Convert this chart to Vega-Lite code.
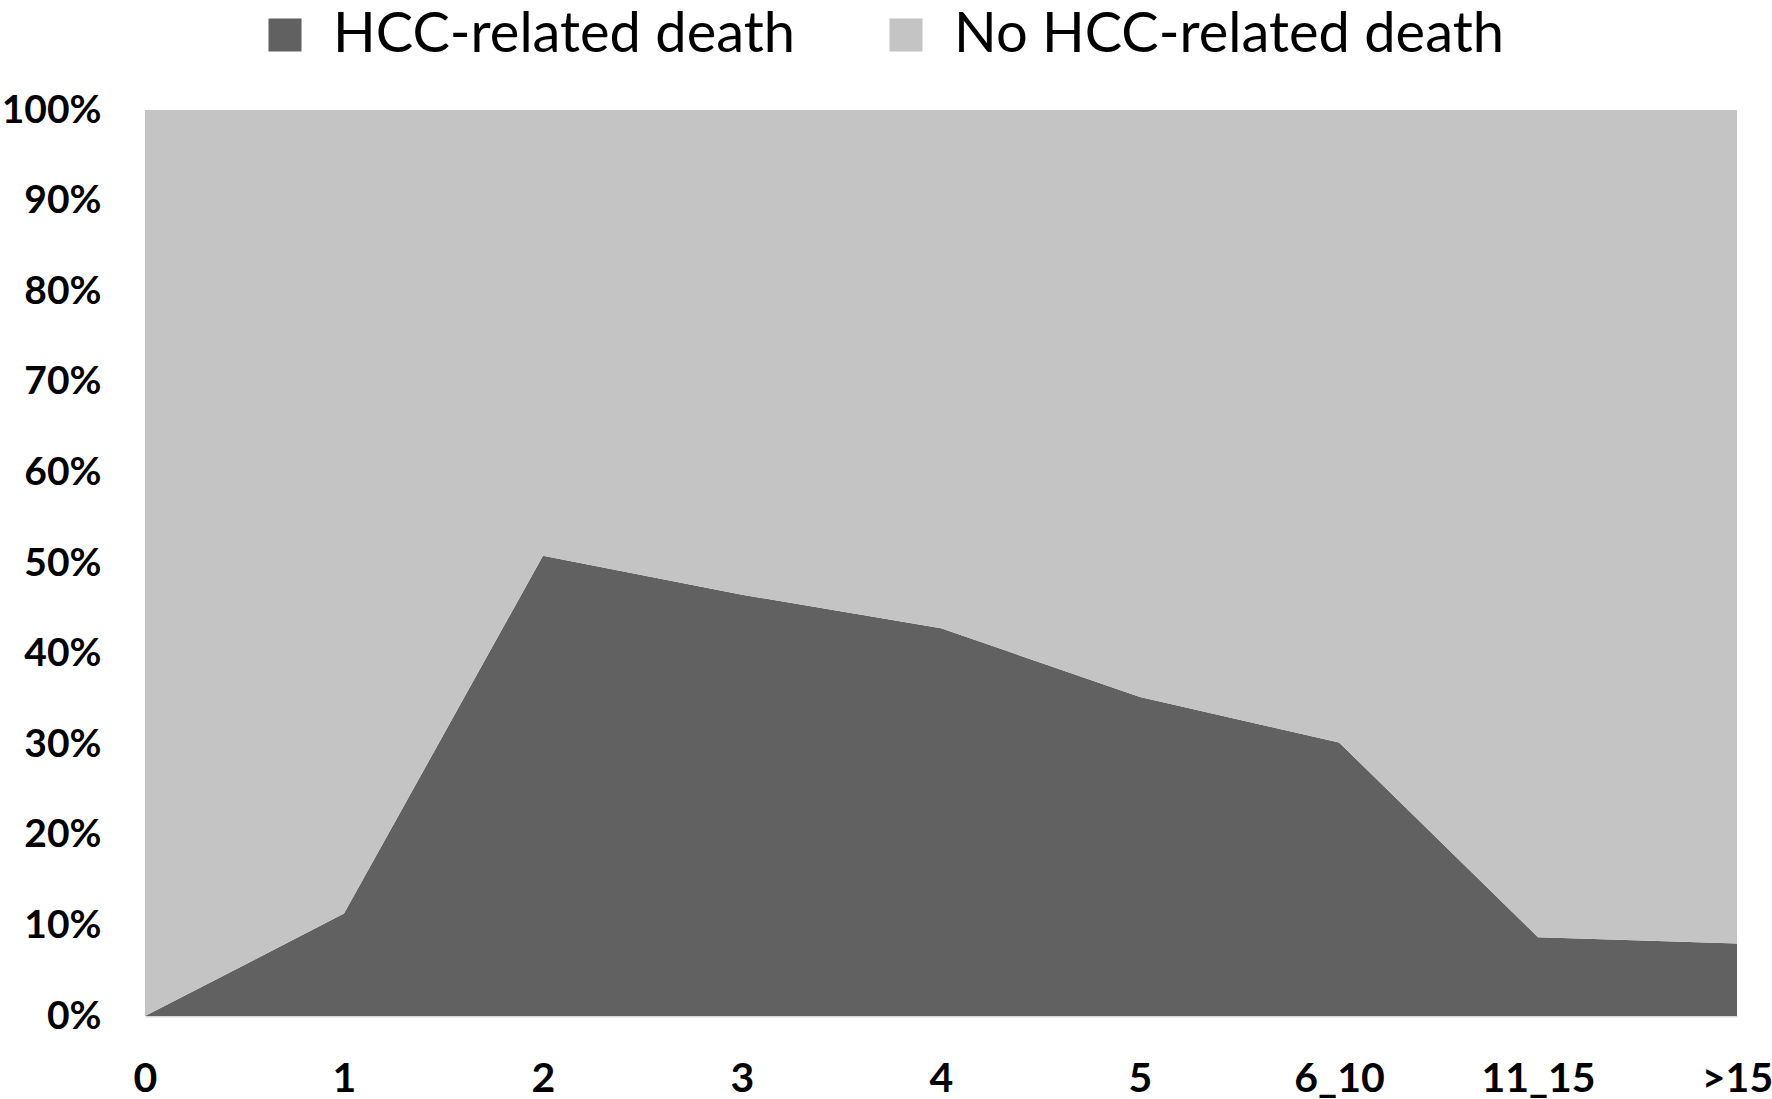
{
  "$schema": "https://vega.github.io/schema/vega-lite/v6.json",
  "width": 1592,
  "height": 906,
  "autosize": "none",
  "padding": {"left": 145, "top": 110, "right": 35, "bottom": 83},
  "background": "white",
  "data": {
    "values": [
      {"years": "0", "outcome": "HCC-related death", "share": 0.0},
      {"years": "0", "outcome": "No HCC-related death", "share": 1.0},
      {"years": "1", "outcome": "HCC-related death", "share": 0.113},
      {"years": "1", "outcome": "No HCC-related death", "share": 0.887},
      {"years": "2", "outcome": "HCC-related death", "share": 0.508},
      {"years": "2", "outcome": "No HCC-related death", "share": 0.492},
      {"years": "3", "outcome": "HCC-related death", "share": 0.465},
      {"years": "3", "outcome": "No HCC-related death", "share": 0.535},
      {"years": "4", "outcome": "HCC-related death", "share": 0.428},
      {"years": "4", "outcome": "No HCC-related death", "share": 0.572},
      {"years": "5", "outcome": "HCC-related death", "share": 0.352},
      {"years": "5", "outcome": "No HCC-related death", "share": 0.648},
      {"years": "6_10", "outcome": "HCC-related death", "share": 0.302},
      {"years": "6_10", "outcome": "No HCC-related death", "share": 0.698},
      {"years": "11_15", "outcome": "HCC-related death", "share": 0.087},
      {"years": "11_15", "outcome": "No HCC-related death", "share": 0.913},
      {"years": ">15", "outcome": "HCC-related death", "share": 0.08},
      {"years": ">15", "outcome": "No HCC-related death", "share": 0.92}
    ]
  },
  "mark": {"type": "area", "interpolate": "linear"},
  "encoding": {
    "x": {
      "field": "years",
      "type": "ordinal",
      "sort": null,
      "scale": {"type": "point", "padding": 0},
      "axis": {
        "title": null,
        "labelAngle": 0,
        "ticks": false,
        "tickSize": 0,
        "domainColor": "#d9d9d9",
        "domainWidth": 2,
        "labelFont": "Lato",
        "labelFontWeight": "bold",
        "labelFontSize": 41,
        "labelColor": "black",
        "labelPadding": 75,
        "labelBaseline": "alphabetic"
      }
    },
    "y": {
      "field": "share",
      "type": "quantitative",
      "stack": "normalize",
      "scale": {"domain": [0, 1]},
      "axis": {
        "title": null,
        "format": ".0%",
        "values": [0, 0.1, 0.2, 0.3, 0.4, 0.5, 0.6, 0.7, 0.8, 0.9, 1],
        "grid": false,
        "domain": false,
        "ticks": false,
        "tickSize": 0,
        "labelFont": "Lato",
        "labelFontWeight": "bold",
        "labelFontSize": 39,
        "labelColor": "black",
        "labelPadding": 44
      }
    },
    "color": {
      "field": "outcome",
      "type": "nominal",
      "scale": {
        "domain": ["HCC-related death", "No HCC-related death"],
        "range": ["#616161", "#c4c4c4"]
      },
      "legend": {
        "title": null,
        "orient": "none",
        "direction": "horizontal",
        "legendX": 112,
        "legendY": -103,
        "symbolType": "square",
        "symbolSize": 1089,
        "symbolStrokeWidth": 0,
        "symbolOpacity": 1,
        "labelFont": "Lato",
        "labelFontSize": 56,
        "labelColor": "black",
        "labelOffset": 20,
        "columnPadding": 82,
        "labelLimit": 0
      }
    },
    "order": {"field": "outcome", "sort": "ascending"}
  },
  "config": {
    "view": {"stroke": null}
  }
}
